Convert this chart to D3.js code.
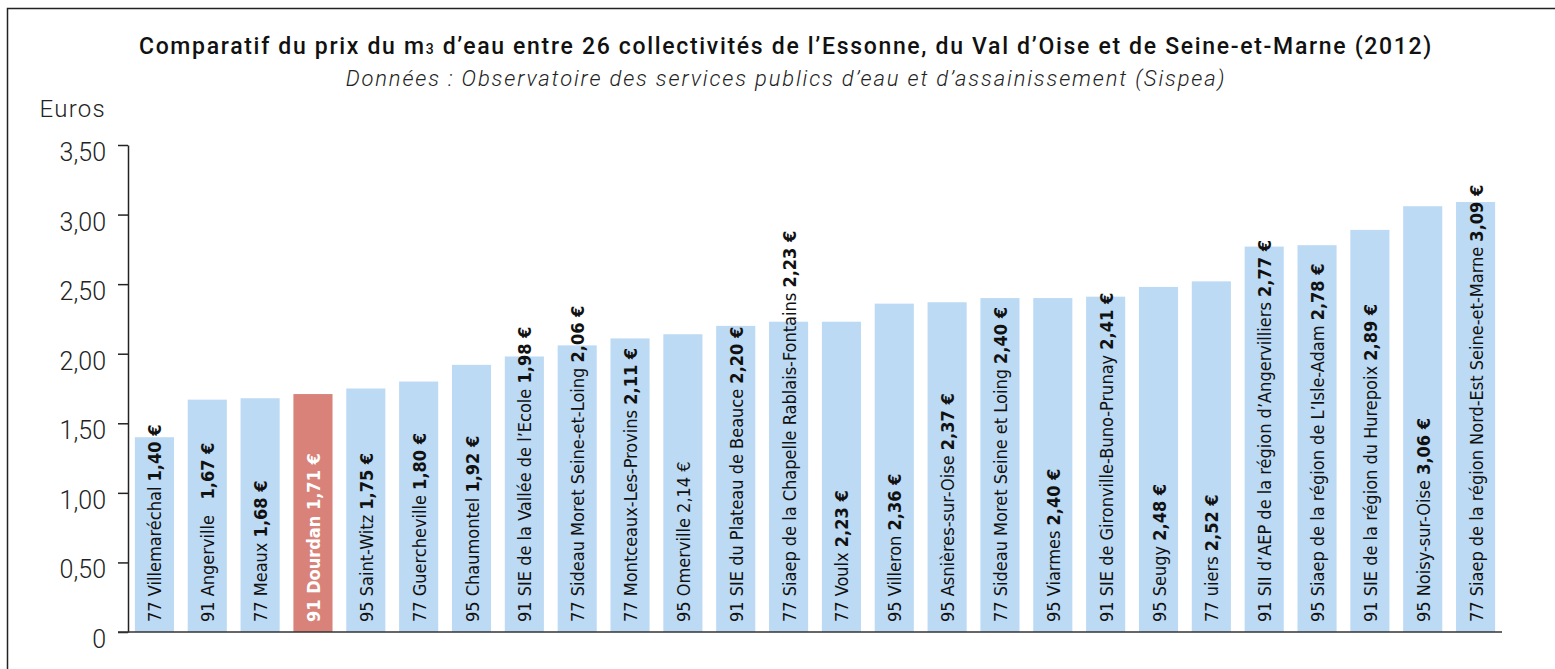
<!DOCTYPE html>
<html>
<head>
<meta charset="utf-8">
<script src="https://cdn.jsdelivr.net/npm/d3@7"></script>
<style>
  body { margin: 0; background: #fff; }
  svg { display: block; }
</style>
</head>
<body>
<div class="canvas"></div>
<script>
// data
const names = [
  '77 Villemaréchal', '91 Angerville  ', '77 Meaux', '91 Dourdan', '95 Saint-Witz',
  '77 Guercheville', '95 Chaumontel', '91 SIE de la Vallée de l\u2019Ecole',
  '77 Sideau Moret Seine-et-Loing', '77 Montceaux-Les-Provins', '95 Omerville',
  '91 SIE du Plateau de Beauce', '77 Siaep de la Chapelle Rablais-Fontains', '77 Voulx',
  '95 Villeron', '95 Asnières-sur-Oise', '77 Sideau Moret Seine et Loing', '95 Viarmes',
  '91 SIE de Gironville-Buno-Prunay', '95 Seugy', '77 uiers',
  '91 SII d\u2019AEP de la région d\u2019Angervilliers', '95 Siaep de la région de L\u2019Isle-Adam',
  '91 SIE de la région du Hurepoix', '95 Noisy-sur-Oise',
  '77 Siaep de la région Nord-Est Seine-et-Marne'
]
const prices = [1.40, 1.67, 1.68, 1.71, 1.75, 1.80, 1.92, 1.98, 2.06, 2.11, 2.14, 2.20, 2.23,
  2.23, 2.36, 2.37, 2.40, 2.40, 2.41, 2.48, 2.52, 2.77, 2.78, 2.89, 3.06, 3.09]
const yTicks = [0, 0.5, 1, 1.5, 2, 2.5, 3, 3.5]
const highlight = '91 Dourdan'
const plainValue = ['95 Omerville']

const title = 'Comparatif du prix du m'
const titleRest = ' d\u2019eau entre 26 collectivités de l\u2019Essonne, du Val d\u2019Oise et de Seine-et-Marne (2012)'
const subtitle = 'Données : Observatoire des services publics d\u2019eau et d\u2019assainissement (Sispea)'

const width = 1555, height = 669
const svg = d3.select('.canvas').append('svg')
  .attr('width', width)
  .attr('height', height)

const data = names.map((n, i) => ({name: n, value: prices[i]}))

// frame (only top and left visible)
svg.append('path')
  .attr('d', `M7.5,${height} V8.5 H${width}`)
  .attr('fill', 'none')
  .attr('stroke', '#222')
  .attr('stroke-width', 1.5)

// title
const t = svg.append('text')
  .attr('x', 786).attr('y', 54)
  .attr('text-anchor', 'middle')
  .style('font-family', 'Roboto, sans-serif')
  .style('font-weight', 500)
  .style('font-size', '23px')
  .style('letter-spacing', '1.68px')
  .attr('fill', '#111')
t.append('tspan').text(title)
t.append('tspan').style('font-size', '14px').text('3')
t.append('tspan').text(titleRest)

svg.append('text')
  .attr('x', 786).attr('y', 86)
  .attr('text-anchor', 'middle')
  .style('font-family', 'Roboto, sans-serif')
  .style('font-weight', 300)
  .style('font-style', 'italic')
  .style('font-size', '22px')
  .style('letter-spacing', '1.85px')
  .attr('fill', '#222')
  .text(subtitle)

svg.append('text')
  .attr('x', 106).attr('y', 117)
  .attr('text-anchor', 'end')
  .style('font-family', 'Roboto, sans-serif')
  .style('font-weight', 300)
  .style('font-size', '24px')
  .style('letter-spacing', '1.3px')
  .attr('fill', '#222')
  .text('Euros')

// scales
const y = d3.scaleLinear().domain([0, 3.5]).range([632, 145])
const x = d3.scaleBand()
  .domain(names)
  .range([128, 1502])
  .paddingInner(0.26)
  .paddingOuter(0.13)

const fmt = v => v === 0 ? '0' : d3.format('.2f')(v).replace('.', ',')

const yAxis = d3.axisLeft(y)
  .tickValues(yTicks)
  .tickFormat(fmt)
  .tickSize(10)
  .tickSizeOuter(0)
  .tickPadding(12)

const yAxisGroup = svg.append('g')
  .attr('transform', 'translate(128,0)')
  .call(yAxis)
yAxisGroup.select('.domain').attr('stroke', '#222').attr('stroke-width', 1.5)
yAxisGroup.selectAll('line').attr('stroke', '#222').attr('stroke-width', 1.5)
yAxisGroup.selectAll('text')
  .attr('dy', '0.62em')
  .attr('fill', '#222')
  .style('font-family', 'Roboto, sans-serif')
  .style('font-weight', 300)
  .style('font-size', '25px')

// bars
svg.append('g').selectAll('rect')
  .data(data)
  .enter().append('rect')
    .attr('x', d => x(d.name))
    .attr('width', x.bandwidth())
    .attr('y', d => y(d.value))
    .attr('height', d => y(0) - y(d.value))
    .attr('fill', d => d.name === highlight ? '#d8827a' : '#bddaf4')

// baseline
svg.append('line')
  .attr('x1', 118).attr('x2', x.range()[1])
  .attr('y1', y(0)).attr('y2', y(0))
  .attr('stroke', '#333')
  .attr('stroke-width', 1.5)

// rotated labels inside bars
const labels = svg.append('g').selectAll('text')
  .data(data)
  .enter().append('text')
    .attr('transform', d => `translate(${x(d.name) + x.bandwidth() / 2 + 7},${y(0) - 10}) rotate(-90)`)
    .style('font-family', '"Liberation Sans Narrow", "DejaVu Sans Condensed", sans-serif')
    .style('font-size', '18px')
    .style('white-space', 'pre')
    .attr('fill', d => d.name === highlight ? '#fff' : '#111')

labels.append('tspan')
  .style('font-weight', d => d.name === highlight ? 'bold' : 'normal')
  .text(d => d.name + ' ')
labels.append('tspan')
  .style('font-weight', d => plainValue.includes(d.name) ? 'normal' : 'bold')
  .text(d => fmt(d.value) + ' €')
</script>
</body>
</html>
